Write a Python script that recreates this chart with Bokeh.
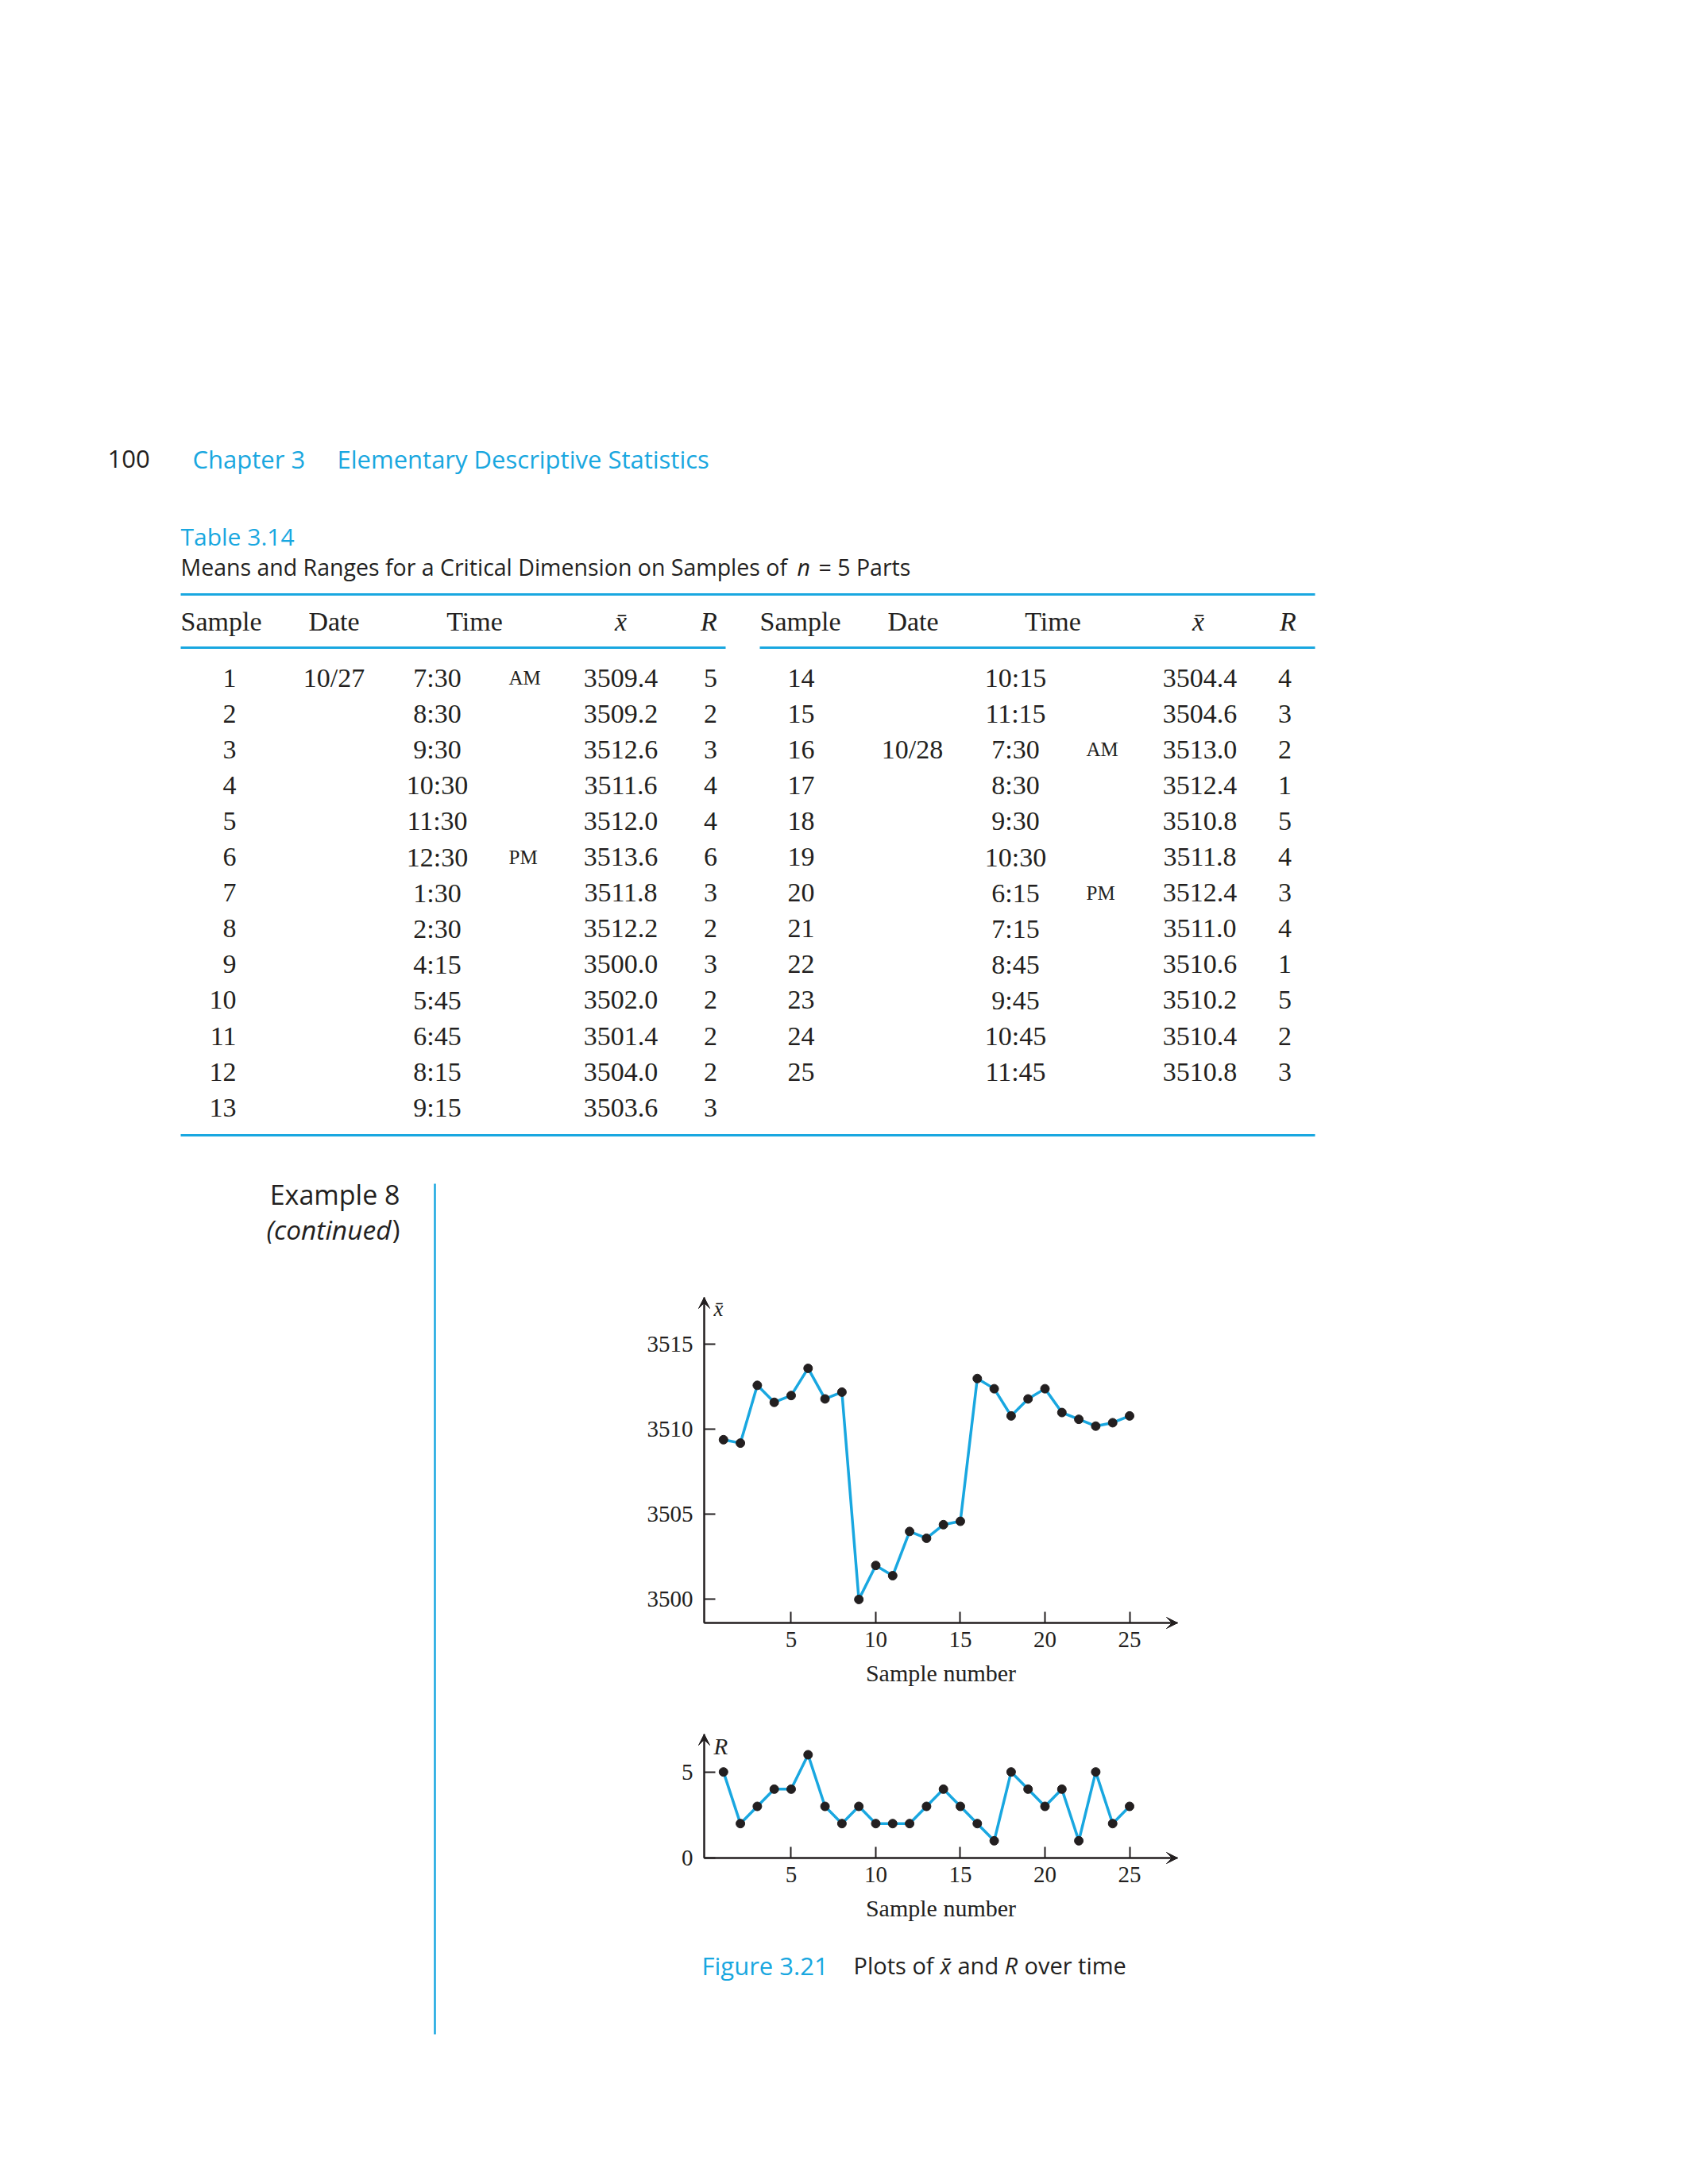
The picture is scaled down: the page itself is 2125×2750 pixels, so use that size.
from bokeh.plotting import figure
from bokeh.models import Range1d, FixedTicker, Arrow, VeeHead, Label, Spacer, ColumnDataSource
from bokeh.layouts import column, row
from bokeh.embed import file_html
from bokeh.resources import INLINE
from bokeh.core.properties import value

CYAN = "#19a7e0"
INK = "#231f20"
SERIF = "Liberation Serif"
SANS = "Open Sans"

# ---------------- data ----------------
samples = list(range(1, 26))
dates = ["10/27"] + [""] * 14 + ["10/28"] + [""] * 9
times = ["7:30", "8:30", "9:30", "10:30", "11:30", "12:30", "1:30", "2:30", "4:15",
         "5:45", "6:45", "8:15", "9:15", "10:15", "11:15", "7:30", "8:30", "9:30",
         "10:30", "6:15", "7:15", "8:45", "9:45", "10:45", "11:45"]
ampm = ["AM", "", "", "", "", "PM", "", "", "", "", "", "", "", "", "", "AM", "", "",
        "", "PM", "", "", "", "", ""]
xbar = [3509.4, 3509.2, 3512.6, 3511.6, 3512.0, 3513.6, 3511.8, 3512.2, 3500.0,
        3502.0, 3501.4, 3504.0, 3503.6, 3504.4, 3504.6, 3513.0, 3512.4, 3510.8,
        3511.8, 3512.4, 3511.0, 3510.6, 3510.2, 3510.4, 3510.8]
rng = [5, 2, 3, 4, 4, 6, 3, 2, 3, 2, 2, 2, 3, 4, 3, 2, 1, 5, 4, 3, 4, 1, 5, 2, 3]
x_ticks = [5, 10, 15, 20, 25]
xbar_ticks = [3500, 3505, 3510, 3515]
r_ticks = [0, 5]
headers = ["Sample", "Date", "Time", "x\u0304", "R"]


def page_fig(x0, x1, y0, y1, **kw):
    opts = dict(min_border=0)
    opts.update(kw)
    p = figure(width=x1 - x0, height=y1 - y0, x_range=Range1d(x0, x1),
               y_range=Range1d(y1, y0), output_backend="svg", toolbar_location=None,
               outline_line_color=None, x_axis_location=None,
               y_axis_location=None, background_fill_color="white",
               border_fill_color="white", **opts)
    p.grid.visible = False
    return p


def txt(p, xs, ys, texts, size, font=SANS, style="normal", color=INK, align="left"):
    src = ColumnDataSource(dict(x=list(xs), y=list(ys), t=list(texts)))
    p.text(x="x", y="y", text="t", source=src, text_font=value(font),
           text_font_size=f"{size}px", text_font_style=style, text_color=color,
           text_align=align, text_baseline="alphabetic")


# ---------------- top: running head + table ----------------
top = page_fig(8, 2117, 8, 1470)
txt(top, [135], [577], ["100"], 31)
txt(top, [242, 424], [577, 577], ["Chapter 3", "Elementary Descriptive Statistics"], 31, color=CYAN)
txt(top, [227], [675], ["Table 3.14"], 30, color=CYAN)
txt(top, [227], [713], ["Means and Ranges for a Critical Dimension on Samples of"], 28.5)
txt(top, [1003], [713], ["n"], 28.5, style="italic")
txt(top, [1030], [713], ["= 5 Parts"], 28.5)

# rules
top.segment(x0=[227, 227, 956, 227], y0=[748, 815, 815, 1429],
            x1=[1655, 913, 1655, 1655], y1=[748, 815, 815, 1429],
            line_color=CYAN, line_width=3)

# header row
hy = 781.5
txt(top, [227, 956], [hy, hy], ["Sample", "Sample"], 34, font=SERIF)
txt(top, [420, 1149, 597, 1325], [hy] * 4, ["Date", "Date", "Time", "Time"], 34, font=SERIF, align="center")
txt(top, [781, 1508, 892, 1621], [hy] * 4, [headers[3], headers[3], headers[4], headers[4]], 34,
    font=SERIF, style="italic", align="center")

halves = [(0, 13), (13, 25)]
col_sample = [297, 1025]
col_date = [420, 1148]
col_time = [550, 1278]
col_ampm = [640, 1367]
col_xbar = [781, 1510]
col_r = [894, 1617]
for h, (a, b) in enumerate(halves):
    ys = [853 + 45.1 * k for k in range(b - a)]
    n = b - a
    txt(top, [col_sample[h]] * n, ys, [str(s) for s in samples[a:b]], 34, font=SERIF, align="right")
    txt(top, [col_date[h]] * n, ys, dates[a:b], 34, font=SERIF, align="center")
    txt(top, [col_time[h]] * n, ys, times[a:b], 34, font=SERIF, align="center")
    txt(top, [col_ampm[h]] * n, ys, ampm[a:b], 25, font=SERIF)
    txt(top, [col_xbar[h]] * n, ys, [f"{v:.1f}" for v in xbar[a:b]], 34, font=SERIF, align="center")
    txt(top, [col_r[h]] * n, ys, [str(v) for v in rng[a:b]], 34, font=SERIF, align="center")

# ---------------- left margin: example note ----------------
left = page_fig(8, 756, 1470, 2620)
txt(left, [503], [1503.5], ["Example 8"], 34, align="right")
txt(left, [503], [1547], [")"], 33, align="right")
txt(left, [492], [1547], ["(continued"], 33.5, style="italic", align="right")
left.segment(x0=[547], y0=[1490], x1=[547], y1=[2561], line_color=CYAN, line_width=2.5)

# ---------------- charts ----------------
X0, X1 = -0.14, 27.84          # axis origin and arrow tip (sample-number units)
PXX = 596 / (X1 - X0)          # px per sample unit
ML, MR, MB = 130, 20, 100      # room around the axes box inside each chart canvas


def chart(y0, y1, yticks, frame_h, top_room, ydata, ylabel, ylabel_size, ylabel_dy):
    pxy = frame_h / (y1 - y0)
    p = figure(width=ML + 596 + MR, height=top_room + frame_h + MB,
               x_range=Range1d(X0 - ML / PXX, X1 + MR / PXX),
               y_range=Range1d(y0 - MB / pxy, y1 + top_room / pxy),
               output_backend="svg", toolbar_location=None, min_border=0,
               outline_line_color=None,
               background_fill_color="white", border_fill_color="white")
    p.grid.visible = False
    p.xaxis.ticker = FixedTicker(ticks=x_ticks)
    p.yaxis.ticker = FixedTicker(ticks=yticks)
    p.xaxis.fixed_location = y0
    p.yaxis.fixed_location = X0
    p.xaxis.bounds = (X0, X1)
    p.yaxis.bounds = (y0, y1)
    for ax in p.axis:
        ax.axis_line_width = 2
        ax.axis_line_color = INK
        ax.major_tick_line_width = 2
        ax.major_tick_line_color = INK
        ax.major_tick_in = 14
        ax.major_tick_out = 0
        ax.minor_tick_line_color = None
        ax.major_label_text_font = SERIF
        ax.major_label_text_font_size = "29px"
        ax.major_label_text_color = INK
    p.yaxis.major_label_standoff = 14
    p.xaxis.major_label_standoff = 11
    p.xaxis.axis_label = "Sample number"
    p.xaxis.axis_label_text_font = SERIF
    p.xaxis.axis_label_text_font_size = "30px"
    p.xaxis.axis_label_text_font_style = "normal"
    p.xaxis.axis_label_text_color = INK
    p.xaxis.axis_label_standoff = 13

    p.add_layout(Arrow(end=VeeHead(size=14, fill_color=INK, line_color=INK, line_width=1),
                       x_start=X0, y_start=y0, x_end=X0, y_end=y1,
                       line_color=INK, line_width=2))
    p.add_layout(Arrow(end=VeeHead(size=14, fill_color=INK, line_color=INK, line_width=1),
                       x_start=X0, y_start=y0, x_end=X1, y_end=y0,
                       line_color=INK, line_width=2))

    p.line(samples, ydata, line_color=CYAN, line_width=3.5)
    p.scatter(samples, ydata, size=11, fill_color=INK, line_color=INK)

    p.add_layout(Label(x=X0, y=y1, x_offset=12, y_offset=ylabel_dy, text=ylabel,
                       text_font=SERIF, text_font_style="italic",
                       text_font_size=f"{ylabel_size}px", text_color=INK,
                       text_baseline="alphabetic"))
    return p


chart1 = chart(3498.62, 3517.78, xbar_ticks, 410, 33, xbar, "x\u0304", 27, -14)
chart2 = chart(0, 7.2, r_ticks, 156, 40, rng, "R", 29, -15)

cap = page_fig(756, 1502, 2439, 2569)
txt(cap, [883], [2474], ["Figure 3.21"], 31, color=CYAN)
txt(cap, [1074, 1205, 1289], [2474] * 3, ["Plots of", "and", "over time"], 29)
txt(cap, [1183, 1264], [2474] * 2, ["x\u0304", "R"], 29, style="italic")

right_col = column(Spacer(width=746, height=130), chart1, chart2, cap)
body = column(top, row(left, right_col))
page = column(Spacer(width=2117, height=8), row(Spacer(width=8, height=10), body))

open("out.html", "w").write(file_html(page, INLINE))
